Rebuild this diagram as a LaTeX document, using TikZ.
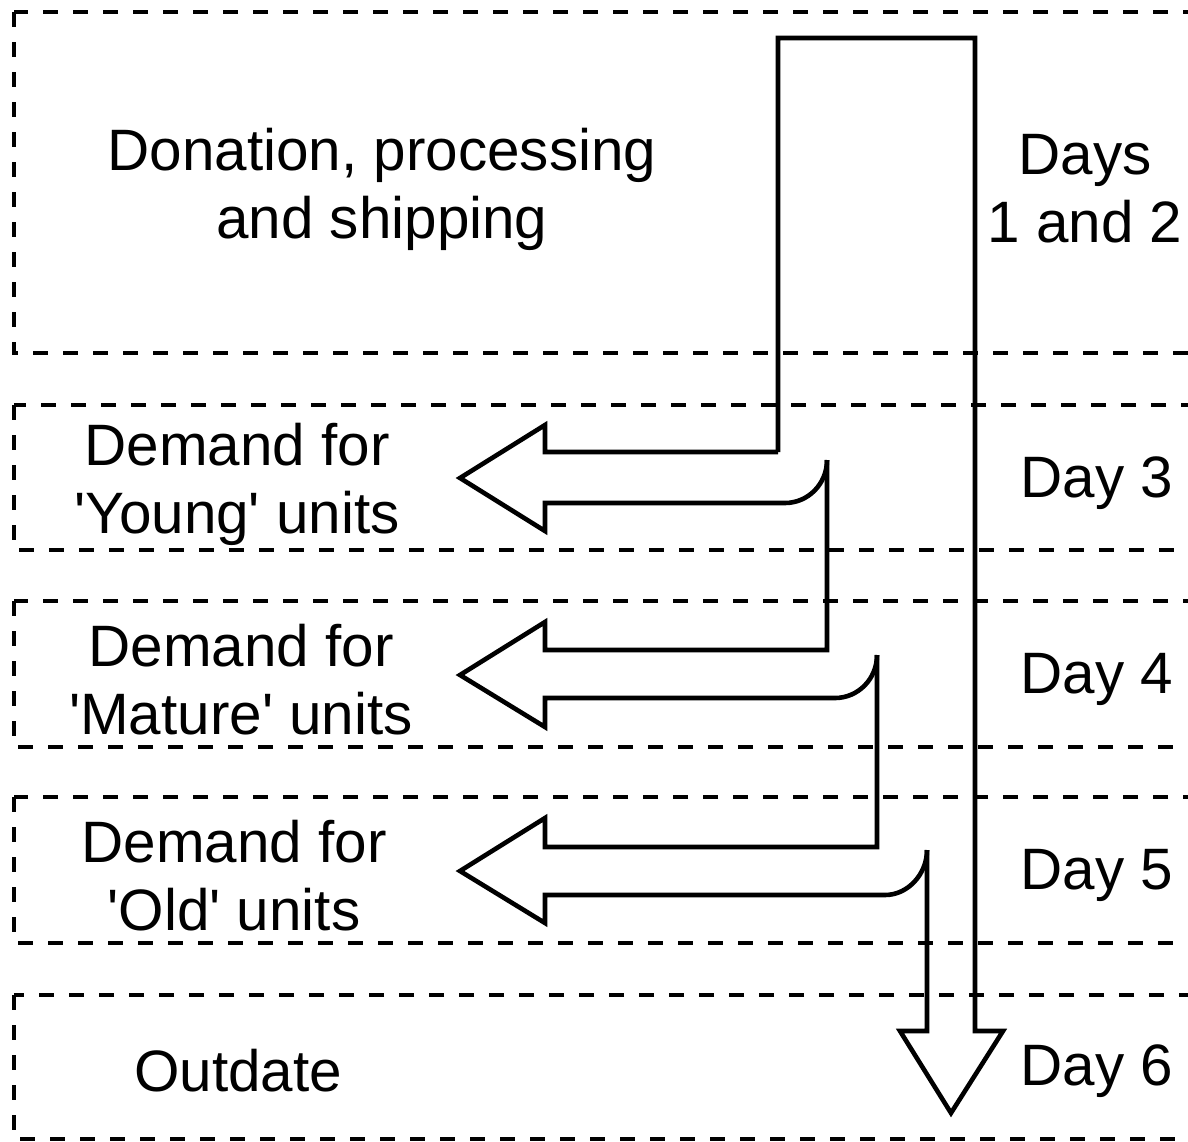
\documentclass[tikz,border=0pt]{standalone}
\usepackage{fontspec}
\setmainfont{Liberation Sans}[Ligatures=TeXOff]
\begin{document}
\begin{tikzpicture}[x=0.5pt,y=-0.5pt,
  band/.style={draw, line width=2.3pt, dash pattern=on 7.5pt off 7.5pt},
  flow/.style={draw, line width=2.3pt, line join=miter},
  lbl/.style={font=\fontsize{29.2}{34}\selectfont, align=center, inner sep=0pt}]
\clip (0,0) rectangle (1188,1141);
% dashed bands
\draw[band] (14,12) rectangle (1210,353);
\draw[band] (14,405) rectangle (1210,550);
\draw[band] (14,601) rectangle (1210,747);
\draw[band] (14,797) rectangle (1210,943);
\draw[band] (14,995) rectangle (1210,1139);
% labels
\node[lbl] (don) at (382,189) {Donation, processing\\and shipping};
\node[lbl] (d12) at (1085,189) {Days\\1 and 2};
\node[lbl] (young) at (237,484) {Demand for\\'Young' units};
\node[lbl] (d3) at (1097,483) {Day 3};
\node[lbl] (mature) at (241,680) {Demand for\\'Mature' units};
\node[lbl] (d4) at (1097,679) {Day 4};
\node[lbl] (old) at (234,876) {Demand for\\'Old' units};
\node[lbl] (d5) at (1097,875) {Day 5};
\node[lbl] (outd) at (238,1071) {Outdate};
\node[lbl] (d6) at (1097,1071) {Day 6};
% main flow arrow
\draw[flow] (778,452) -- (778,38) -- (975,38) -- (975,1031) -- (1003,1031)
  -- (951,1113) -- (900,1031) -- (927,1031) -- (927,850);
% young
\draw[flow] (778,452) -- (545,452) -- (545,425) -- (460,478) -- (545,531)
  -- (545,503) -- (785,503) .. controls (808,503) and (827,484) .. (827,460);
% mature
\draw[flow] (827,460) -- (827,650) -- (545,650) -- (545,622) -- (460,675)
  -- (545,727) -- (545,698) -- (835,698) .. controls (858,698) and (877,679) .. (877,655);
% old
\draw[flow] (877,655) -- (877,847) -- (545,847) -- (545,818) -- (460,871)
  -- (545,923) -- (545,895) -- (885,895) .. controls (908,895) and (927,874) .. (927,850);
\end{tikzpicture}
\end{document}
